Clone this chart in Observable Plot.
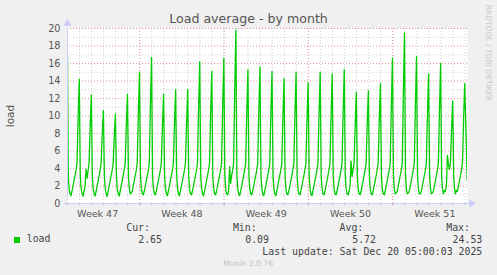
<!DOCTYPE html>
<html><head><meta charset="utf-8">
<script src="https://cdn.jsdelivr.net/npm/d3@7"></script>
<script src="https://cdn.jsdelivr.net/npm/@observablehq/plot@0.6"></script>
<style>
body{margin:0;background:#f0f0f0;}
#wrap{position:relative;width:497px;height:275px;background:#f0f0f0;overflow:hidden;font-family:"DejaVu Sans",sans-serif;color:#555;}
#wrap svg{position:absolute;left:0;top:0;}
.t{position:absolute;white-space:nowrap;line-height:1;}
.mono{font-family:"DejaVu Sans Mono",monospace;font-size:9.9px;color:#444;}
</style></head><body><div id="wrap"></div>
<script>
// ---- data ----
const startTime = new Date(Date.UTC(2025, 10, 17, 0, 0));
const endTime = new Date(Date.UTC(2025, 11, 20, 5, 0));
const lastSample = new Date(Date.UTC(2025, 11, 20, 4, 30));
// daily peak load (around midnight), one per day from Nov 17 to Dec 20
const peaks = [17.0, 14.2, 12.4, 10.6, 10.2, 12.5, 15.0, 16.7, 12.5, 13.0, 13.0, 16.2, 15.1, 16.6, 19.8, 15.3, 15.6,
               15.1, 14.3, 15.0, 13.8, 15.0, 14.8, 15.3, 12.7, 12.9, 13.7, 16.6, 19.5, 16.8, 14.8, 16.0, 11.7, 13.7];
// daily morning minimum
const lows = [0.9, 0.85, 0.85, 0.8, 0.85, 1.2, 1.0, 1.0, 0.9, 0.9, 1.0, 0.9, 1.0, 1.0, 0.9, 1.0, 0.9,
              0.9, 1.0, 1.0, 0.9, 1.0, 1.0, 1.0, 1.0, 1.0, 1.0, 1.2, 1.2, 1.1, 1.2, 1.5, 1.5];
// typical daily course (hour of day -> load); null = that day's minimum
const profileHours = [1.5, 3, 5, 7, 9, 11, 13, 15, 17, 19];
const profileValues = [3.2, 1.8, 1.1, null, 1.4, 2.0, 2.6, 3.2, 3.8, 4.6];
// afternoon bumps seen on some days
const bumpDays = [1, 1, 13, 13, 23, 23, 31, 31, 31];
const bumpHours = [13, 15, 11, 13, 13, 15, 13, 15, 17];
const bumpValues = [3.9, 2.9, 4.2, 2.3, 4.85, 3.1, 5.5, 4.5, 3.9];
const curValue = 2.65;
// axis ticks / labels
const yMajor = [0, 2, 4, 6, 8, 10, 12, 14, 16, 18, 20];
const yMinor = [1, 3, 5, 7, 9, 11, 13, 15, 17, 19];
const weekStarts = [new Date(Date.UTC(2025, 10, 23)), new Date(Date.UTC(2025, 10, 30)), new Date(Date.UTC(2025, 11, 7)), new Date(Date.UTC(2025, 11, 14))];
const weekLabelDates = [new Date(Date.UTC(2025, 10, 19, 12)), new Date(Date.UTC(2025, 10, 26, 12)), new Date(Date.UTC(2025, 11, 3, 12)), new Date(Date.UTC(2025, 11, 10, 12)), new Date(Date.UTC(2025, 11, 17, 12))];
const weekLabels = ["Week 47", "Week 48", "Week 49", "Week 50", "Week 51"];
const legendName = "load";
const stats = {Cur: "2.65", Min: "0.09", Avg: "5.72", Max: "24.53"};
const lastUpdate = "Last update: Sat Dec 20 05:00:03 2025";

// ---- build series ----
const DAY = 864e5, HOUR = 36e5;
const rows = [];
peaks.forEach((p, k) => {
  const mid = +startTime + k * DAY;
  rows.push({t: new Date(Math.max(+startTime, mid - 0.5 * HOUR)), v: p});
  if (k < lows.length) {
    profileHours.forEach((h, j) => {
      let v = profileValues[j] == null ? lows[k] : profileValues[j];
      bumpDays.forEach((d, i) => { if (d === k && bumpHours[i] === h) v = bumpValues[i]; });
      rows.push({t: new Date(mid + h * HOUR), v});
    });
    rows.push({t: new Date(mid + 21 * HOUR), v: (profileValues[9] + peaks[k + 1]) / 2});
  }
});
rows.push({t: lastSample, v: curValue});

const days = d3.utcDay.range(startTime, endTime);

const axisCol = "#ccccff";
const chart = Plot.plot({
  width: 497, height: 275,
  marginLeft: 67, marginRight: 30, marginTop: 28, marginBottom: 72,
  style: {background: "transparent", fontFamily: "DejaVu Sans", overflow: "visible"},
  x: {type: "utc", domain: [startTime, endTime]},
  y: {domain: [0, 20]},
  marks: [
    Plot.frame({fill: "white", stroke: null}),
    Plot.ruleY(yMinor, {stroke: "#d0d0d0", strokeDasharray: "1,2"}),
    Plot.ruleX(days, {stroke: "#d0d0d0", strokeDasharray: "1,2"}),
    Plot.ruleY(yMajor.filter(d => d > 0), {stroke: "#e49494", strokeDasharray: "1,2"}),
    Plot.ruleX(weekStarts, {stroke: "#e49494", strokeDasharray: "1,2"}),
    Plot.line(rows, {x: "t", y: "v", stroke: "#00cc00", strokeWidth: 1.3, clip: true}),
    Plot.ruleX(days, {y1: 0, y2: 0, stroke: "#bbb", insetBottom: -2}),
    Plot.ruleX(weekStarts, {y1: 0, y2: 0, stroke: "#e08080", insetBottom: -2}),
    Plot.ruleX([startTime], {y1: 0, y2: 20, stroke: axisCol, insetTop: -5}),
    Plot.ruleY([0], {stroke: axisCol, insetRight: -4, insetLeft: -3}),
    Plot.dot([startTime], {x: d => d, y: () => 20, dy: -5, symbol: "triangle", r: 3, fill: axisCol, stroke: null}),
    Plot.dot([endTime], {x: d => d, y: () => 0, dx: 4, symbol: "triangle", rotate: 90, r: 3, fill: axisCol, stroke: null}),
    Plot.axisY({ticks: yMajor, tickSize: 0, tickPadding: 7, fontSize: 9.7, fill: "#555", label: null}),
    Plot.axisX({ticks: weekLabelDates, tickSize: 0, tickPadding: 6.4, fontSize: 9.5, fill: "#555", label: null,
      tickFormat: d => weekLabels[weekLabelDates.findIndex(w => +w === +d)]})
  ]
});
const wrap = document.getElementById("wrap");
wrap.appendChild(chart);

function addText(txt, css, cls) {
  const el = document.createElement("div");
  el.className = "t " + (cls || "");
  el.textContent = txt;
  Object.assign(el.style, css);
  wrap.appendChild(el);
  return el;
}
addText("Load average - by month", {left: "0px", width: "497px", textAlign: "center", top: "13px", fontSize: "12.6px", color: "#555"});
addText("load", {left: "10px", top: "116px", fontSize: "10.5px", color: "#555", transform: "translate(-50%,-50%) rotate(-90deg)"});
addText("RRDTOOL / TOBI OETIKER", {left: "488px", top: "53px", fontSize: "7.5px", color: "#c8c8c8", transform: "translate(-50%,-50%) rotate(90deg)"});
const sq = document.createElement("div");
Object.assign(sq.style, {position: "absolute", left: "14px", top: "236.5px", width: "6px", height: "6px", background: "#00cc00"});
wrap.appendChild(sq);
addText(legendName, {left: "26.7px", top: "234.3px"}, "mono");
const cols = [["Cur", 150, 162], ["Min", 256.7, 269], ["Avg", 363.3, 376], ["Max", 470, 482.3]];
cols.forEach(([k, e1, e2]) => {
  addText(k + ":", {right: (497 - e1) + "px", top: "223.2px"}, "mono");
  addText(stats[k], {right: (497 - e2) + "px", top: "234.6px"}, "mono");
});
addText(lastUpdate, {right: (497 - 482.3) + "px", top: "247px"}, "mono");
addText("Munin 2.0.76", {left: "223.3px", top: "260.4px", fontSize: "7.6px", color: "#c0c0c0"});
</script></body></html>
